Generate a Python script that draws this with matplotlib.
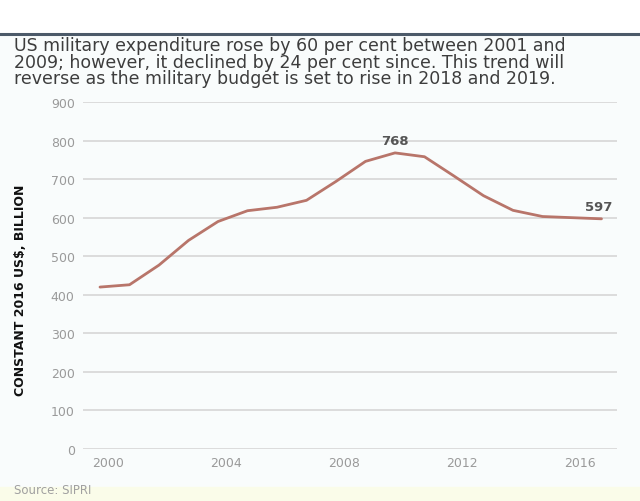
import matplotlib.pyplot as plt
from matplotlib.patches import Rectangle
from matplotlib.lines import Line2D
import matplotlib.transforms as mtransforms

years = list(range(2000, 2018))
spending = [420, 426, 477, 541, 590, 618, 627, 645, 694, 746,
            768, 758, 708, 657, 619, 603, 600, 597]
xticks = [2000, 2004, 2008, 2012, 2016]
yticks = [0, 100, 200, 300, 400, 500, 600, 700, 800, 900]
title = ("US military expenditure rose by 60 per cent between 2001 and\n"
         "2009; however, it declined by 24 per cent since. This trend will\n"
         "reverse as the military budget is set to rise in 2018 and 2019.")

W, H = 640, 502
fig = plt.figure(figsize=(W / 100, H / 100), dpi=100, facecolor="#f9fcfc")

# top white band, rule line and bottom tint
fig.patches.append(Rectangle((0, 1 - 34 / H), 1, 34 / H, transform=fig.transFigure,
                             color="white", zorder=0))
fig.lines.append(Line2D([0, 1], [1 - 35 / H, 1 - 35 / H], transform=fig.transFigure,
                        color="#4c5a69", lw=2.2))
fig.patches.append(Rectangle((0, 0), 1, 14 / H, transform=fig.transFigure,
                             color="#fafce9", zorder=0))

ax = fig.add_axes([83 / W, 1 - 450 / H, (617 - 83) / W, (450 - 103) / H])
ax.set_facecolor("none")
ax.plot(years, spending, color="#b8756a", lw=2, solid_capstyle="round", zorder=3)

ax.set_xlim(2000 - 17 / 29.5, 2000 + 517 / 29.5)
ax.set_ylim(0, 900)
ax.set_yticks(yticks)
ax.set_xticks(xticks)
ax.set_xticklabels([str(x) for x in xticks])
ax.grid(axis="y", color="#dcdcdc", lw=1.4)
ax.tick_params(length=0, colors="#9a9a9a", labelsize=9, pad=6)
ax.tick_params(axis="x", pad=5)
shift = mtransforms.ScaledTranslation(8 / 100, 0, fig.dpi_scale_trans)
for lab in ax.get_xticklabels():
    lab.set_transform(lab.get_transform() + shift)
for s in ax.spines.values():
    s.set_visible(False)

ax.annotate("768", (2010, 768), xytext=(0, 4), textcoords="offset points",
            ha="center", va="bottom", fontsize=9.5, fontweight="bold", color="#555555")
ax.annotate("597", (2017, 597), xytext=(-2, 4), textcoords="offset points",
            ha="center", va="bottom", fontsize=9.5, fontweight="bold", color="#555555")

fig.text(14 / W, 1 - 290 / H, "CONSTANT 2016 US$, BILLION", rotation=90,
         ha="left", va="center", fontsize=9, fontweight="bold", color="#111111")
fig.text(14 / W, 1 - 37 / H, title, ha="left", va="top", fontsize=12.5,
         color="#3d3d3d", linespacing=0.9)
fig.text(14 / W, 1 - 491 / H, "Source: SIPRI", ha="left", va="center",
         fontsize=8.5, color="#a0a0a0")

fig.savefig("out.png", dpi=100, facecolor=fig.get_facecolor())
